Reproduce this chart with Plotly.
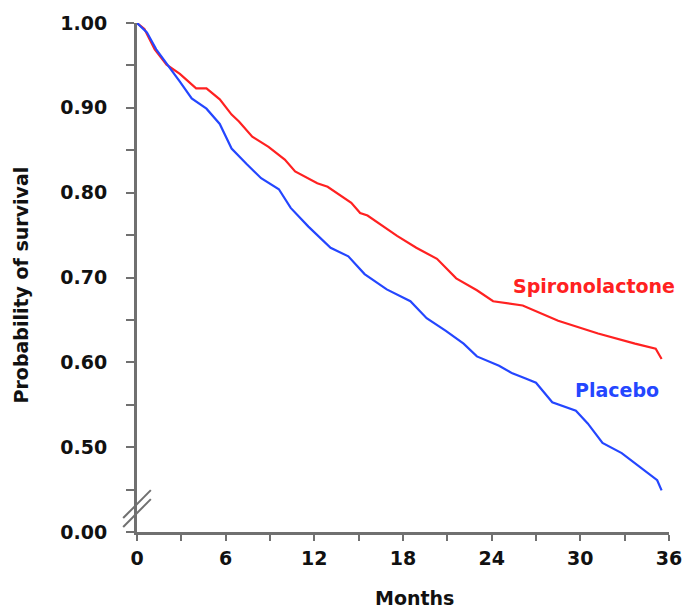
import plotly.graph_objects as go

# Kaplan-Meier style survival estimates, months of follow-up
spiro_months = [0, 0.5, 1.2, 2.0, 2.9, 4.0, 4.7, 5.6, 6.4, 6.9, 7.8, 8.9, 10.0, 10.7,
                12.2, 12.9, 14.5, 15.1, 15.6, 16.7, 17.6, 18.9, 20.3, 21.6, 23.0,
                24.1, 26.1, 28.5, 31.2, 33.7, 35.1, 35.5]
spiro_surv = [1.000, 0.993, 0.969, 0.951, 0.940, 0.923, 0.923, 0.910, 0.892, 0.884,
              0.866, 0.854, 0.839, 0.825, 0.811, 0.807, 0.788, 0.776, 0.773, 0.760,
              0.749, 0.735, 0.722, 0.699, 0.685, 0.672, 0.667, 0.649, 0.634, 0.622,
              0.616, 0.604]

placebo_months = [0, 0.67, 1.3, 2.2, 2.9, 3.7, 4.7, 5.6, 6.4, 7.4, 8.4, 9.6, 10.4,
                  11.6, 13.1, 14.3, 15.4, 16.9, 18.5, 19.6, 20.9, 22.1, 23.0, 24.5,
                  25.4, 26.3, 27.0, 28.1, 29.7, 30.5, 31.5, 32.8, 34.1, 35.2, 35.5]
placebo_surv = [1.000, 0.989, 0.969, 0.948, 0.931, 0.911, 0.899, 0.881, 0.852, 0.834,
                0.817, 0.804, 0.782, 0.760, 0.735, 0.725, 0.704, 0.686, 0.672, 0.652,
                0.637, 0.622, 0.607, 0.596, 0.587, 0.581, 0.576, 0.553, 0.543, 0.528,
                0.505, 0.493, 0.476, 0.461, 0.449]

# Axis ticks; the bottom of the truncated axis (0.40) is labelled 0.00
y_tickvals = [0.40, 0.45, 0.50, 0.55, 0.60, 0.65, 0.70, 0.75, 0.80, 0.85, 0.90, 0.95, 1.00]
y_ticktext = ["0.00", "", "0.50", "", "0.60", "", "0.70", "", "0.80", "", "0.90", "", "1.00"]
x_tickvals = [0, 3, 6, 9, 12, 15, 18, 21, 24, 27, 30, 33, 36]
x_ticktext = ["0", "", "6", "", "12", "", "18", "", "24", "", "30", "", "36"]

RED = "#ff2121"
BLUE = "#2446ff"
AXIS = "#707070"
FONT = "Verdana, DejaVu Sans, sans-serif"
SIZE = 19

fig = go.Figure()
fig.add_trace(go.Scatter(x=spiro_months, y=spiro_surv, mode="lines",
                         line=dict(color=RED, width=2.2), name="Spironolactone"))
fig.add_trace(go.Scatter(x=placebo_months, y=placebo_surv, mode="lines",
                         line=dict(color=BLUE, width=2.2), name="Placebo"))

tickfont = dict(family=FONT, size=SIZE, color="#111111", weight="bold")

fig.update_xaxes(range=[0, 36], tickvals=x_tickvals, ticktext=x_ticktext,
                 showgrid=False, zeroline=False, showline=True, linecolor=AXIS,
                 linewidth=3, ticks="outside", ticklen=6, tickwidth=2, tickcolor=AXIS,
                 tickfont=tickfont, ticklabelstandoff=1)
fig.update_yaxes(range=[0.40, 1.00], tickvals=y_tickvals, ticktext=y_ticktext,
                 showgrid=False, zeroline=False, showline=True, linecolor=AXIS,
                 linewidth=3, ticks="outside", ticklen=8, tickwidth=2, tickcolor=AXIS,
                 tickfont=tickfont, ticklabelstandoff=15)

# Axis break marks near the bottom of the y axis
for y0, y1 in [(0.0274, 0.0822), (0.0098, 0.0646)]:
    fig.add_shape(type="line", xref="paper", yref="paper", x0=-0.026, y0=y0,
                  x1=0.026, y1=y1, line=dict(color=AXIS, width=2))

titlefont = dict(family=FONT, size=SIZE, color="#111111", weight="bold")
fig.add_annotation(text="Months", xref="paper", yref="paper", x=0.5215, y=-0.129,
                   showarrow=False, font=titlefont, xanchor="center", yanchor="middle")
fig.add_annotation(text="Probability of survival", xref="paper", yref="paper",
                   x=-0.2175, y=0.485, textangle=-90, showarrow=False, font=titlefont,
                   xanchor="center", yanchor="middle")

# Series labels next to the curves
fig.add_annotation(text="Spironolactone", x=30.9, y=0.690, showarrow=False,
                   font=dict(family=FONT, size=SIZE, color=RED, weight="bold"))
fig.add_annotation(text="Placebo", x=32.45, y=0.567, showarrow=False,
                   font=dict(family=FONT, size=SIZE, color=BLUE, weight="bold"))

fig.update_layout(width=694, height=608, showlegend=False,
                  plot_bgcolor="white", paper_bgcolor="white",
                  margin=dict(l=137, r=19, t=21, b=76))

fig.write_html("out.html")
